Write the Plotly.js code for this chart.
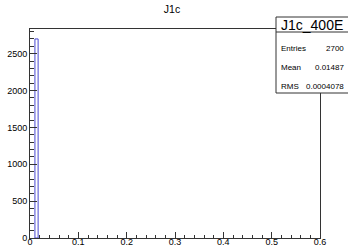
<!DOCTYPE html>
<html><head><meta charset="utf-8">
<script src="https://cdn.plot.ly/plotly-3.0.1.min.js"></script>
<style>html,body{margin:0;padding:0;background:#fff;}#c{width:348px;height:249px;}</style>
</head><body><div id="c"></div>
<script>
var binLow = [0.0102];
var binHigh = [0.0168];
var counts = [2700];
var histName = "J1c_400E";
var histTitle = "J1c";
var statLabels = ["Entries", "Mean", "RMS"];
var statValues = ["2700", "0.01487", "0.0004078"];

var centers = binLow.map(function(l,i){return (l+binHigh[i])/2;});
var widths = binLow.map(function(l,i){return binHigh[i]-l;});

var W=348,H=249, L=30, R=320, T=29, B=238;
function px(x){return (x-L)/(R-L);}
function py(y){return (B-y)/(B-T);}

var trace = {type:'bar', x:centers, y:counts, width:widths,
  marker:{color:'rgba(255,255,255,0)', line:{color:'#4848d0', width:1}},
  hoverinfo:'skip'};

var font = {family:'Liberation Sans, Arial, sans-serif', color:'#000'};
var shapes = [
  {type:'rect', xref:'paper', yref:'paper', x0:px(276), x1:px(352), y0:py(93), y1:py(17),
   line:{color:'#333', width:1}, fillcolor:'#fff', layer:'above'},
  {type:'line', xref:'paper', yref:'paper', x0:px(276), x1:px(352), y0:py(32), y1:py(32),
   line:{color:'#333', width:1}, layer:'above'}
];
var annotations = [
  {xref:'paper', yref:'paper', x:px(312), y:py(24.5), text:histName, showarrow:false,
   xanchor:'center', yanchor:'middle', font:Object.assign({size:14}, font)}
];
var rowY = [48, 67, 86];
statLabels.forEach(function(lab,i){
  annotations.push({xref:'paper', yref:'paper', x:px(279), y:py(rowY[i]), text:lab, showarrow:false,
    xanchor:'left', yanchor:'middle', font:Object.assign({size:8}, font)});
  annotations.push({xref:'paper', yref:'paper', x:px(346), y:py(rowY[i]), text:statValues[i], showarrow:false,
    xanchor:'right', yanchor:'middle', font:Object.assign({size:8}, font)});
});

var layout = {
  width:W, height:H, margin:{l:L, r:W-R, t:T, b:H-B, pad:0},
  paper_bgcolor:'#fff', plot_bgcolor:'#fff', showlegend:false, bargap:0,
  title:{text:histTitle, x:172/W, xanchor:'center', y:1-9/H, yanchor:'middle', yref:'container',
    font:Object.assign({size:10.5}, font)},
  xaxis:{range:[0,0.6], dtick:0.1, tick0:0, ticks:'inside', ticklen:6, tickcolor:'#333', tickwidth:1,
    showline:true, mirror:true, linecolor:'#333', linewidth:1, showgrid:false, zeroline:false,
    tickfont:Object.assign({size:9}, font), ticklabelstandoff:-5,
    minor:{dtick:0.02, ticks:'inside', ticklen:3, tickcolor:'#333', showgrid:false}},
  yaxis:{range:[0,2835], dtick:500, tick0:0, ticks:'inside', ticklen:7, tickcolor:'#333', tickwidth:1,
    showline:true, mirror:true, linecolor:'#333', linewidth:1, showgrid:false, zeroline:false,
    tickfont:Object.assign({size:9}, font), ticklabelstandoff:0,
    minor:{dtick:100, ticks:'inside', ticklen:4, tickcolor:'#333', showgrid:false}},
  shapes:shapes, annotations:annotations
};
Plotly.newPlot('c', [trace], layout, {staticPlot:true, displayModeBar:false});
</script></body></html>
